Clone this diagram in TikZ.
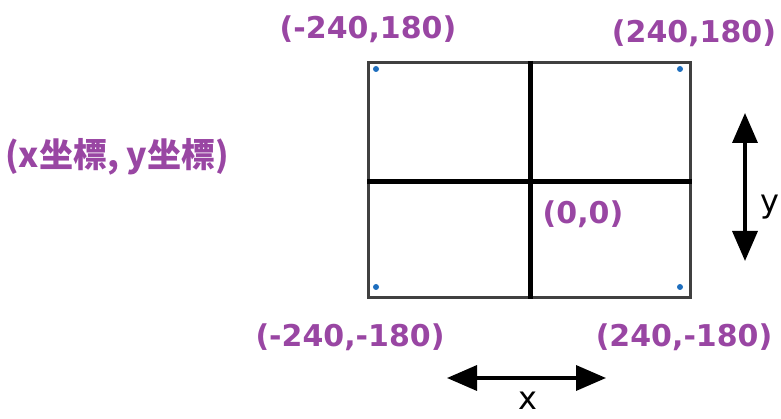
\documentclass[tikz,border=0pt]{standalone}
\usepackage{fontspec}
\setmainfont{DejaVu Sans}
\newfontfamily\cjkfont{Noto Sans CJK TC}
\usetikzlibrary{arrows.meta}
\definecolor{coordpurple}{RGB}{153,70,163}
\definecolor{dotblue}{RGB}{30,110,190}
\begin{document}
\begin{tikzpicture}[x=1pt, y=-1pt,
    coord/.style={font=\fontsize{30}{34}\selectfont\bfseries, text=coordpurple, inner sep=0pt},
    axislabel/.style={font=\fontsize{32}{36}\selectfont, inner sep=0pt},
    axis/.style={line width=5pt, black},
    dim/.style={line width=3.5pt, {Triangle[length=30pt,width=25pt]}-{Triangle[length=30pt,width=25pt]}},
    dot/.style={circle, fill=dotblue, inner sep=0pt, minimum size=6pt}
]
    \useasboundingbox (0,0) rectangle (781,419);

    % screen
    \node[draw=black!75, line width=3pt, minimum width=322pt, minimum height=235pt, inner sep=0pt, anchor=north west] (screen) at (367,61) {};
    \coordinate (origin) at (530,182);
    \draw[axis] (screen.north -| origin) -- (screen.south -| origin);
    \draw[axis] (screen.west |- origin) -- (screen.east |- origin);

    % corners
    \node[dot] (tl) at (376,69) {};
    \node[dot] (tr) at (680,69) {};
    \node[dot] (bl) at (376,287) {};
    \node[dot] (br) at (680,287) {};

    % labels
    \node[coord] (ltl) at (368,29) {(-240,180)};
    \node[coord] (ltr) at (694,33) {(240,180)};
    \node[coord] (lbl) at (350,337) {(-240,-180)};
    \node[coord] (lbr) at (684,337) {(240,-180)};
    \node[coord] (lorg) at (583,214) {(0,0)};
    \node[coord, font=\fontsize{34}{38}\selectfont\cjkfont\bfseries] (lxy) at (117,157) {(x坐標, y坐標)};

    % size arrows
    \coordinate (ytop) at (745,113);
    \coordinate (ybot) at (745,261);
    \draw[dim] (ytop) -- (ybot);
    \node[axislabel, anchor=east] (ylab) at (780,207) {y};
    \coordinate (xleft) at (447,378);
    \coordinate (xright) at (606,378);
    \draw[dim] (xleft) -- (xright);
    \node[axislabel, anchor=south] (xlab) at (528,410) {x};
\end{tikzpicture}
\end{document}
